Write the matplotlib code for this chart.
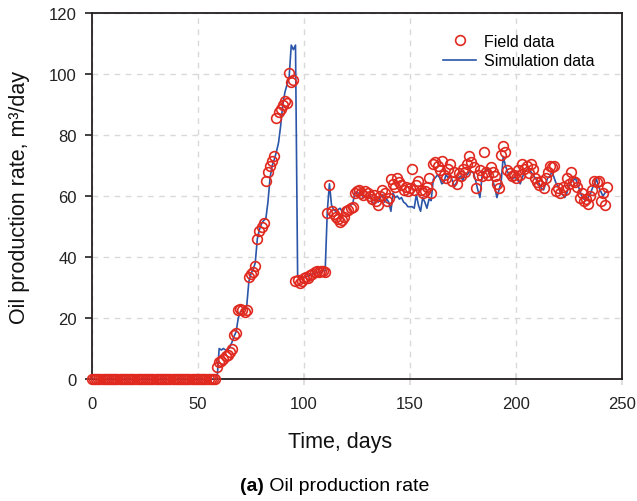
import numpy as np
import matplotlib
matplotlib.use("Agg")
import matplotlib.pyplot as plt

plt.rcParams['font.family'] = ['Liberation Sans', 'DejaVu Sans']

# field measurements, one per day starting at day 0
field_rate = [
    0, 0, 0, 0, 0, 0, 0, 0, 0, 0, 0, 0, 0, 0, 0, 0, 0, 0, 0, 0,
    0, 0, 0, 0, 0, 0, 0, 0, 0, 0, 0, 0, 0, 0, 0, 0, 0, 0, 0, 0,
    0, 0, 0, 0, 0, 0, 0, 0, 0, 0, 0, 0, 0, 0, 0, 0, 0, 0, 0,
    4.0,                                                          # 59
    5.5, 6.0, 6.5, 7.5, 8.0, 9.0, 10.0, 14.5, 15.0, 22.5,         # 60-69
    23.0, 22.5, 22.0, 22.5, 33.5, 34.5, 35.0, 37.0, 46.0, 48.5,   # 70-79
    50.0, 51.0, 65.0, 68.0, 70.0, 71.5, 73.0, 85.5, 87.5, 88.5,   # 80-89
    90.0, 91.0, 90.5, 100.5, 97.5, 98.0, 32.0, 32.5, 31.5, 32.0,  # 90-99
    33.0, 33.5, 33.0, 34.0, 34.5, 35.0, 35.5, 35.0, 35.5, 35.5,   # 100-109
    35.0, 54.5, 63.5, 55.0, 54.0, 53.0, 52.5, 51.5, 52.0, 53.0,   # 110-119
    55.0, 55.5, 56.0, 56.5, 61.0, 61.5, 62.0, 61.0, 60.5, 61.5,   # 120-129
    61.0, 60.0, 59.0, 60.5, 58.5, 57.0, 60.0, 62.0, 61.0, 58.5,   # 130-139
    59.5, 65.5, 64.0, 63.0, 66.0, 64.5, 63.5, 62.0, 63.0, 61.5,   # 140-149
    62.5, 69.0, 62.0, 63.5, 65.0, 62.0, 61.0, 61.5, 63.0, 66.0,   # 150-159
    61.0, 70.5, 71.0, 70.0, 68.5, 71.5, 67.0, 66.0, 69.0, 70.5,   # 160-169
    65.0, 68.0, 64.0, 67.5, 66.5, 69.0, 68.0, 70.5, 73.0, 71.0,   # 170-179
    69.5, 62.5, 67.0, 68.5, 66.5, 74.5, 68.0, 67.0, 69.5, 68.0,   # 180-189
    66.5, 64.0, 62.5, 73.5, 76.5, 74.5, 68.5, 67.5, 66.5, 67.0,   # 190-199
    66.0, 68.5, 67.0, 70.5, 69.0, 70.0, 67.5, 70.5, 69.0, 66.0,   # 200-209
    64.5, 63.5, 65.0, 62.5, 66.0, 68.0, 70.0, 69.5, 70.0, 61.5,   # 210-219
    62.5, 61.0, 63.0, 62.0, 66.0, 64.0, 68.0, 65.0, 64.5, 63.0,   # 220-229
    59.5, 61.0, 58.5, 59.0, 57.5, 60.0, 62.0, 65.0, 64.5, 65.0,   # 230-239
    58.5, 61.0, 57.0, 63.0,                                       # 240-243
]

# simulated rate, one per day starting at day 0
sim_rate = [
    0, 0, 0, 0, 0, 0, 0, 0, 0, 0, 0, 0, 0, 0, 0, 0, 0, 0, 0, 0,
    0, 0, 0, 0, 0, 0, 0, 0, 0, 0, 0, 0, 0, 0, 0, 0, 0, 0, 0, 0,
    0, 0, 0, 0, 0, 0, 0, 0, 0, 0, 0, 0, 0, 0, 0, 0, 0, 0, 0, 0,
    10.0, 9.5, 10.0, 9.5, 9.5, 10.5, 12.0, 14.0, 15.5, 20.0,      # 60-69
    22.0, 22.5, 23.0, 24.0, 32.0, 34.5, 36.0, 38.0, 46.0, 49.0,   # 70-79
    51.0, 52.0, 52.5, 58.0, 66.0, 70.0, 72.0, 74.5, 77.5, 83.0,   # 80-89
    90.0, 94.0, 96.5, 99.0, 109.5, 108.0, 109.5, 34.0, 33.0, 33.0,  # 90-99
    33.5, 33.5, 34.0, 34.0, 34.5, 34.5, 35.0, 35.0, 35.0, 35.5,   # 100-109
    35.5, 55.0, 64.0, 57.0, 55.5, 55.0, 55.5, 56.0, 55.0, 56.0,   # 110-119
    56.5, 57.0, 57.0, 57.5, 61.0, 61.5, 60.5, 61.0, 59.5, 60.0,   # 120-129
    59.0, 61.0, 58.5, 57.0, 59.0, 58.0, 59.5, 60.5, 58.0, 59.0,   # 130-139
    58.0, 55.0, 61.0, 59.5, 60.0, 59.0, 59.5, 58.0, 57.5, 56.5,   # 140-149
    56.5, 56.5, 56.0, 60.5, 57.0, 55.0, 59.5, 58.0, 56.0, 59.0,   # 150-159
    58.5, 65.5, 66.0, 67.0, 66.0, 64.0, 64.5, 67.0, 66.0, 67.0,   # 160-169
    65.0, 63.0, 64.5, 66.0, 66.5, 65.0, 67.5, 67.0, 68.0, 68.0,   # 170-179
    67.5, 65.0, 62.0, 59.5, 66.5, 68.0, 68.5, 69.0, 66.5, 65.0,   # 180-189
    63.0, 59.5, 62.0, 64.5, 73.0, 70.0, 68.0, 66.5, 65.5, 66.0,   # 190-199
    66.0, 65.0, 64.0, 66.0, 68.0, 68.5, 69.0, 68.0, 67.0, 66.0,   # 200-209
    65.0, 64.0, 62.5, 62.0, 64.0, 66.0, 66.5, 68.0, 66.0, 64.0,   # 210-219
    63.0, 61.0, 60.5, 59.5, 61.0, 63.5, 64.5, 65.0, 66.0, 64.0,   # 220-229
    62.0, 60.0, 59.0, 58.5, 59.5, 60.5, 62.5, 64.0, 65.5, 63.0,   # 230-239
    61.5, 60.0, 61.0, 61.7,                                       # 240-243
]

field_days = np.arange(len(field_rate))
sim_days = np.arange(len(sim_rate))

red = '#e02a20'
blue = '#2a55a8'
dark = '#231f20'

fig = plt.figure(figsize=(6.37, 5.02), dpi=100)
ax = fig.add_axes([0.1444, 0.243, 0.832, 0.729])

ax.plot(sim_days, sim_rate, color=blue, lw=1.2, label='Simulation data', zorder=3)
ax.plot(field_days, field_rate, ls='none', marker='o', ms=7, mfc='none',
        mec=red, mew=1.2, label='Field data', zorder=4, clip_on=False)

ax.set_xlim(0, 250)
ax.set_ylim(0, 120)
ax.set_xticks([0, 50, 100, 150, 200, 250])
ax.set_yticks([0, 20, 40, 60, 80, 100, 120])
ax.grid(True, color='#d9d9d9', ls=(0, (4, 4)), lw=1)
ax.set_axisbelow(True)

for s in ax.spines.values():
    s.set_color(dark)
    s.set_linewidth(1.3)

ax.tick_params(axis='y', direction='out', length=5, width=1.2, color=dark,
               labelsize=12, pad=6, labelcolor='#222222')
ax.tick_params(axis='x', direction='inout', length=8, width=1.2, color='#d9d9d9',
               labelsize=12, pad=8, labelcolor='#222222')

ax.set_ylabel('Oil production rate, m³/day', fontsize=15.5, color='#111111')
ax.yaxis.set_label_coords(-0.117, 0.5)
ax.set_xlabel('Time, days', fontsize=15.5, color='#111111')
ax.xaxis.set_label_coords(0.468, -0.142)

handles, labels = ax.get_legend_handles_labels()
ax.legend(handles[::-1], labels[::-1], loc='upper left', bbox_to_anchor=(0.662, 0.944),
          frameon=False, fontsize=11.5, borderpad=0, borderaxespad=0,
          labelspacing=0.3, handlelength=2.1, handletextpad=0.5)

fig.text(0.414, 0.030, '(a)', fontsize=14, fontweight='bold', ha='right', va='center')
fig.text(0.414, 0.030, ' Oil production rate', fontsize=14, ha='left', va='center')

fig.savefig('out.png', dpi=100)
